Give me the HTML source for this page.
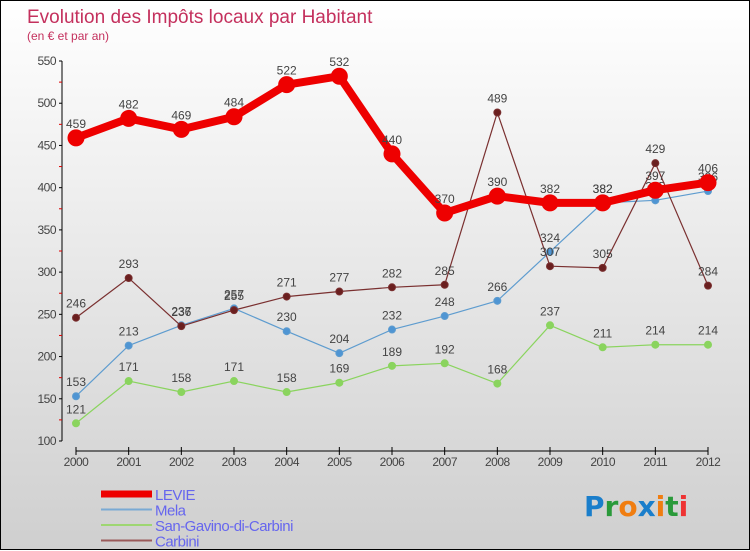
<!DOCTYPE html>
<html><head><meta charset="utf-8"><style>
body{margin:0;width:750px;height:550px;overflow:hidden;font-family:"Liberation Sans",sans-serif}
#wrap{position:relative;width:748px;height:548px;border:1px solid #000;background:linear-gradient(#ffffff,#cfcfcf)}
svg{position:absolute;left:0;top:0}
</style></head><body>
<div id="wrap">
<svg id="chart" width="750" height="550">
<text x="26" y="22" font-size="19" fill="#c4305d">Evolution des Impôts locaux par Habitant</text>
<text x="26" y="39" font-size="12" fill="#c4305d">(en € et par an)</text>
<g id="axes"></g><g id="series"></g><g id="legend"></g>
<g font-size="28" font-weight="bold" font-family="DejaVu Sans, sans-serif">
<text x="583" y="515"><tspan fill="#1a7ecb">P</tspan><tspan fill="#2a9a3a">r</tspan><tspan fill="#f07d10">o</tspan><tspan fill="#1a7ecb">x</tspan><tspan fill="#f07d10">i</tspan><tspan fill="#2a9a3a">t</tspan><tspan fill="#e33">i</tspan></text>
</g>
</svg></div>
<script>
const years=["2000","2001","2002","2003","2004","2005","2006","2007","2008","2009","2010","2011","2012"];
const levie=[459,482,469,484,522,532,440,370,390,382,382,397,406];
const mela=[153,213,237,257,230,204,232,248,266,324,382,385,396];
const sanGavino=[121,171,158,171,158,169,189,192,168,237,211,214,214];
const carbini=[246,293,236,255,271,277,282,285,489,307,305,429,284];
const yTicks=[100,150,200,250,300,350,400,450,500,550];
const NS="http://www.w3.org/2000/svg";
const xs=i=>75+i*(632/12);
const ys=v=>440-(v-100)*(380/450);
function mk(tag,attrs,parent){const e=document.createElementNS(NS,tag);for(const k in attrs)e.setAttribute(k,attrs[k]);parent.appendChild(e);return e;}
const axes=document.getElementById('axes');
let ya=mk('line',{x1:61,y1:ys(550),x2:61,y2:ys(100),stroke:'#000','stroke-width':1},axes);


let xa=mk('line',{x1:75,y1:450,x2:707,y2:450,stroke:'#000','stroke-width':1},axes);


yTicks.forEach((t,i)=>{
  mk('line',{x1:58,y1:ys(t),x2:61,y2:ys(t),stroke:'#000'},axes);
  const tx=mk('text',{x:55,y:ys(t)+4,'text-anchor':'end','font-size':12,fill:'#444','letter-spacing':'-0.5'},axes);
  tx.textContent=t;
  
  
  if(i<yTicks.length-1) mk('line',{x1:58,y1:ys(t+25),x2:61,y2:ys(t+25),stroke:'#d00'},axes);
});
years.forEach((y,i)=>{
  mk('line',{x1:xs(i),y1:446,x2:xs(i),y2:454,stroke:'#000'},axes);
  const tx=mk('text',{x:xs(i),y:465,'text-anchor':'middle','font-size':12,fill:'#444','letter-spacing':'-0.5'},axes);
  tx.textContent=y;
  
  
});
const ser=document.getElementById('series');
function draw(vals,color,dot,w,r,name){
  const g=mk('g',{},ser);
  
  
  mk('polyline',{points:vals.map((v,i)=>xs(i)+','+ys(v)).join(' '),fill:'none',stroke:color,'stroke-width':w,'stroke-linejoin':'round'},g);
  vals.forEach((v,i)=>{
    const c=mk('circle',{cx:xs(i),cy:ys(v),r:r,fill:dot,stroke:color,'stroke-width':1},g);
    
    
    const t=mk('text',{x:xs(i),y:ys(v)-10,'text-anchor':'middle','font-size':12,fill:'#444'},g);
    t.textContent=v;
    
    
  });
}
draw(sanGavino,'#8ad45e','#8ad45e',1.2,3.5,'san-gavino');
draw(mela,'#5e9ccf','#4f95d3',1.2,3.5,'mela');
draw(carbini,'#7a3030','#6a1f1f',1.2,3.5,'carbini');
draw(levie,'#ee0000','#ee0000',8,8,'levie');
const leg=document.getElementById('legend');
const items=[['LEVIE','#ee0000',7],['Mela','#7aaad4',2],['San-Gavino-di-Carbini','#9ed672',2],['Carbini','#9a5a5a',2]];
items.forEach((it,i)=>{
  const g=mk('g',{},leg);
  
  
  const y=493+i*15.5;
  mk('line',{x1:100,y1:y,x2:151,y2:y,stroke:it[1],'stroke-width':it[2]},g);
  const t=mk('text',{x:154,y:y+6,'font-size':15,fill:'#6666ee','letter-spacing':'-0.5'},g);
  t.textContent=it[0];
});
</script>
</body></html>
